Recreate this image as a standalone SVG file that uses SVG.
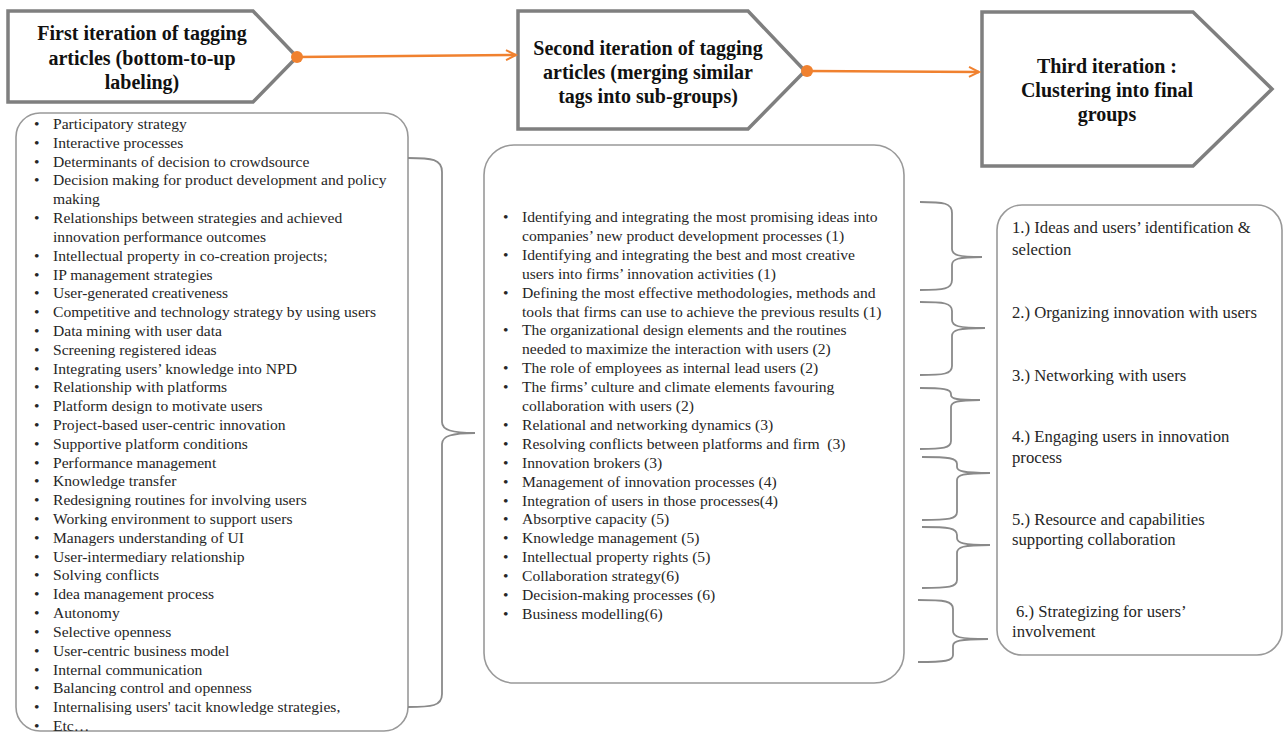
<svg xmlns="http://www.w3.org/2000/svg" width="1284" height="733" viewBox="0 0 1284 733">
<defs>
<style>
.pent{fill:#fff;stroke:#7f7f7f;stroke-width:3.5;stroke-linejoin:miter}
.title{font-family:"Liberation Serif","Times New Roman",serif;font-weight:bold;font-size:20px;fill:#111;text-anchor:middle}
.box{fill:#fff;stroke:#999;stroke-width:1.6}
.list{font-family:"Liberation Serif","Times New Roman",serif;font-size:15.6px;fill:#262626}
.grp{font-family:"Liberation Serif","Times New Roman",serif;font-size:16.7px;fill:#262626}
.brace{fill:none;stroke:#8a8a8a;stroke-width:1.8}
.conn{fill:none;stroke:#f0812f;stroke-width:2.5}
.dot{fill:#f0812f}
</style>
<marker id="arr" markerUnits="userSpaceOnUse" markerWidth="14" markerHeight="14" refX="11" refY="6" orient="auto">
<path d="M1,1 L11,6 L1,11" fill="none" stroke="#f0812f" stroke-width="2"/>
</marker>
</defs>

<g id="node-first">
<polygon class="pent" points="8,11 253,11 297,57 253,102 8,102"/>
<text class="title"><tspan x="142" y="40">First iteration of tagging</tspan><tspan x="142" y="65">articles (bottom-to-up</tspan><tspan x="142" y="89">labeling)</tspan></text>
</g>

<g id="node-second">
<polygon class="pent" points="518,11 748,11 805,71 748,129 518,129"/>
<text class="title"><tspan x="648" y="55">Second iteration of tagging</tspan><tspan x="648" y="79">articles (merging similar</tspan><tspan x="648" y="103">tags into sub-groups)</tspan></text>
</g>

<g id="node-third">
<polygon class="pent" points="982,12 1193,12 1272,89 1193,166 982,166"/>
<text class="title"><tspan x="1107" y="73">Third iteration :</tspan><tspan x="1107" y="97">Clustering into final</tspan><tspan x="1107" y="121">groups</tspan></text>
</g>

<g id="node-list1">
<rect class="box" x="16" y="113" width="392" height="618" rx="24" ry="24"/>
<text class="list">
<tspan x="34" y="129">•</tspan><tspan x="53" y="129">Participatory strategy</tspan>
<tspan x="34" y="147.8">•</tspan><tspan x="53" y="147.8">Interactive processes</tspan>
<tspan x="34" y="166.6">•</tspan><tspan x="53" y="166.6">Determinants of decision to crowdsource</tspan>
<tspan x="34" y="185.4">•</tspan><tspan x="53" y="185.4">Decision making for product development and policy</tspan>
<tspan x="53" y="204.2">making</tspan>
<tspan x="34" y="223.1">•</tspan><tspan x="53" y="223.1">Relationships between strategies and achieved</tspan>
<tspan x="53" y="241.9">innovation performance outcomes</tspan>
<tspan x="34" y="260.7">•</tspan><tspan x="53" y="260.7">Intellectual property in co-creation projects;</tspan>
<tspan x="34" y="279.5">•</tspan><tspan x="53" y="279.5">IP management strategies</tspan>
<tspan x="34" y="298.3">•</tspan><tspan x="53" y="298.3">User-generated creativeness</tspan>
<tspan x="34" y="317.1">•</tspan><tspan x="53" y="317.1">Competitive and technology strategy by using users</tspan>
<tspan x="34" y="335.9">•</tspan><tspan x="53" y="335.9">Data mining with user data</tspan>
<tspan x="34" y="354.7">•</tspan><tspan x="53" y="354.7">Screening registered ideas</tspan>
<tspan x="34" y="373.5">•</tspan><tspan x="53" y="373.5">Integrating users’ knowledge into NPD</tspan>
<tspan x="34" y="392.3">•</tspan><tspan x="53" y="392.3">Relationship with platforms</tspan>
<tspan x="34" y="411.2">•</tspan><tspan x="53" y="411.2">Platform design to motivate users</tspan>
<tspan x="34" y="430">•</tspan><tspan x="53" y="430">Project-based user-centric innovation</tspan>
<tspan x="34" y="448.8">•</tspan><tspan x="53" y="448.8">Supportive platform conditions</tspan>
<tspan x="34" y="467.6">•</tspan><tspan x="53" y="467.6">Performance management</tspan>
<tspan x="34" y="486.4">•</tspan><tspan x="53" y="486.4">Knowledge transfer</tspan>
<tspan x="34" y="505.2">•</tspan><tspan x="53" y="505.2">Redesigning routines for involving users</tspan>
<tspan x="34" y="524">•</tspan><tspan x="53" y="524">Working environment to support users</tspan>
<tspan x="34" y="542.8">•</tspan><tspan x="53" y="542.8">Managers understanding of UI</tspan>
<tspan x="34" y="561.6">•</tspan><tspan x="53" y="561.6">User-intermediary relationship</tspan>
<tspan x="34" y="580.4">•</tspan><tspan x="53" y="580.4">Solving conflicts</tspan>
<tspan x="34" y="599.3">•</tspan><tspan x="53" y="599.3">Idea management process</tspan>
<tspan x="34" y="618.1">•</tspan><tspan x="53" y="618.1">Autonomy</tspan>
<tspan x="34" y="636.9">•</tspan><tspan x="53" y="636.9">Selective openness</tspan>
<tspan x="34" y="655.7">•</tspan><tspan x="53" y="655.7">User-centric business model</tspan>
<tspan x="34" y="674.5">•</tspan><tspan x="53" y="674.5">Internal communication</tspan>
<tspan x="34" y="693.3">•</tspan><tspan x="53" y="693.3">Balancing control and openness</tspan>
<tspan x="34" y="712.1">•</tspan><tspan x="53" y="712.1">Internalising users' tacit knowledge strategies,</tspan>
<tspan x="34" y="730.9">•</tspan><tspan x="53" y="730.9">Etc…</tspan>
</text>
</g>

<g id="node-list2">
<rect class="box" x="484" y="145" width="420" height="538" rx="30" ry="30"/>
<text class="list">
<tspan x="503" y="222">•</tspan><tspan x="522" y="222">Identifying and integrating the most promising ideas into</tspan>
<tspan x="522" y="240.9">companies’ new product development processes (1)</tspan>
<tspan x="503" y="259.8">•</tspan><tspan x="522" y="259.8">Identifying and integrating the best and most creative</tspan>
<tspan x="522" y="278.7">users into firms’ innovation activities (1)</tspan>
<tspan x="503" y="297.6">•</tspan><tspan x="522" y="297.6">Defining the most effective methodologies, methods and</tspan>
<tspan x="522" y="316.5">tools that firms can use to achieve the previous results (1)</tspan>
<tspan x="503" y="335.4">•</tspan><tspan x="522" y="335.4">The organizational design elements and the routines</tspan>
<tspan x="522" y="354.3">needed to maximize the interaction with users (2)</tspan>
<tspan x="503" y="373.2">•</tspan><tspan x="522" y="373.2">The role of employees as internal lead users (2)</tspan>
<tspan x="503" y="392.1">•</tspan><tspan x="522" y="392.1">The firms’ culture and climate elements favouring</tspan>
<tspan x="522" y="411">collaboration with users (2)</tspan>
<tspan x="503" y="429.9">•</tspan><tspan x="522" y="429.9">Relational and networking dynamics (3)</tspan>
<tspan x="503" y="448.8">•</tspan><tspan x="522" y="448.8">Resolving conflicts between platforms and firm&#160; (3)</tspan>
<tspan x="503" y="467.7">•</tspan><tspan x="522" y="467.7">Innovation brokers (3)</tspan>
<tspan x="503" y="486.6">•</tspan><tspan x="522" y="486.6">Management of innovation processes (4)</tspan>
<tspan x="503" y="505.5">•</tspan><tspan x="522" y="505.5">Integration of users in those processes(4)</tspan>
<tspan x="503" y="524.4">•</tspan><tspan x="522" y="524.4">Absorptive capacity (5)</tspan>
<tspan x="503" y="543.3">•</tspan><tspan x="522" y="543.3">Knowledge management (5)</tspan>
<tspan x="503" y="562.2">•</tspan><tspan x="522" y="562.2">Intellectual property rights (5)</tspan>
<tspan x="503" y="581.1">•</tspan><tspan x="522" y="581.1">Collaboration strategy(6)</tspan>
<tspan x="503" y="600">•</tspan><tspan x="522" y="600">Decision-making processes (6)</tspan>
<tspan x="503" y="618.9">•</tspan><tspan x="522" y="618.9">Business modelling(6)</tspan>
</text>
</g>

<g id="node-groups">
<rect class="box" x="997" y="205" width="285" height="450" rx="25" ry="25"/>
<text class="grp">
<tspan x="1012" y="233">1.) Ideas and users’ identification &amp;</tspan>
<tspan x="1012" y="255">selection</tspan>
<tspan x="1012" y="318">2.) Organizing innovation with users</tspan>
<tspan x="1012" y="381">3.) Networking with users</tspan>
<tspan x="1012" y="442">4.) Engaging users in innovation</tspan>
<tspan x="1012" y="463">process</tspan>
<tspan x="1012" y="525">5.) Resource and capabilities</tspan>
<tspan x="1012" y="545">supporting collaboration</tspan>
<tspan x="1016" y="617">6.) Strategizing for users’</tspan>
<tspan x="1012" y="637">involvement</tspan>
</text>
</g>

<g id="connectors">
<line class="conn" x1="297" y1="57" x2="516" y2="55" marker-end="url(#arr)"/>
<circle class="dot" cx="297" cy="57" r="6"/>
<line class="conn" x1="807" y1="71" x2="979" y2="72" marker-end="url(#arr)"/>
<circle class="dot" cx="807" cy="71" r="6"/>
<path class="brace" d="M408,158 C432,158 442,159 442,172 L442,422 C442,430 452,433 475,433 C452,433 442,436 442,444 L442,694 C442,706 432,707 408,707"/>
<path class="brace" d="M920,202 C944,202 952,203 952,213 L952,249 C952,255 958,257 982,257 C958,257 952,259 952,265 L952,280 C952,289 944,290 920,290"/>
<path class="brace" d="M920,302 C944,302 952,303 952,311 L952,320 C952,326 958,328 985,328 C958,328 952,330 952,336 L952,366 C952,374 944,375 920,375"/>
<path class="brace" d="M920,388 C943,388 951,389 951,394 L951,395 C951,399 957,400 980,400 C957,400 951,402 951,407 L951,441 C951,448 943,449 920,449"/>
<path class="brace" d="M922,457 C949,457 957,458 957,464 L957,467 C957,471 963,473 990,473 C963,473 957,475 957,480 L957,512 C957,519 949,520 922,520"/>
<path class="brace" d="M922,527 C949,527 957,528 957,535 L957,538 C957,543 963,545 990,545 C963,545 957,547 957,553 L957,580 C957,587 949,588 922,588"/>
<path class="brace" d="M918,600 C945,600 953,601 953,609 L953,631 C953,637 959,639 988,639 C959,639 953,641 953,646 L953,655 C953,661 945,662 918,662"/>
</g>
</svg>
